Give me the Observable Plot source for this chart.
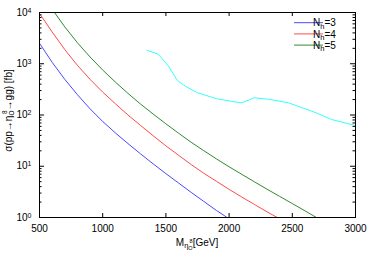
<!DOCTYPE html>
<html><head><meta charset="utf-8">
<script src="https://cdn.jsdelivr.net/npm/d3@7"></script>
<script src="https://cdn.jsdelivr.net/npm/@observablehq/plot@0.6"></script>
<style>body{margin:0;background:#fff} svg{display:block}</style>
</head><body><div id="chart"></div>
<script>
// ---- data ----
const mass = [500,600,700,800,900,1000,1100,1200,1300,1400,1500,1600,1700,1800,1900,2000,2100,2200,2300,2400,2500,2600,2700];
const sigmaNh3 = [2511,1067,496,249,132,74.7,44.8,27.7,17.4,11.1,7.17,4.71,3.09,2.06,1.37,0.944];
const sigmaNh4 = [9560,4184,1887,932,496,280,166,100,62.4,39.2,25.0,16.4,10.8,7.29,5.08,3.54,2.51,1.80,1.29,0.944];
const sigmaNh5 = [27350,11620,5243,2568,1357,755,440,264,163,104,67.3,44.2,29.4,20.1,13.9,9.76,6.96,4.97,3.57,2.58,1.87,1.35,0.97];
const limitMass = [1350,1440,1520,1590,1660,1750,1900,2020,2100,2200,2320,2470,2580,2690,2810,3000];
const limitSigma = [1833,1531,904,474,357,272,208,184,173,217,201,173,138,110,81.8,62.4];
const seriesNames = ["3","4","5"];
const seriesColors = ["#4a4aff","#ff4a4a","#2f8a2f"];
const limitColor = "#33ffff";
const xTicks = [500,1000,1500,2000,2500,3000];
const yTicks = [1,10,100,1000,10000];
const yTickExp = ["0","1","2","3","4"];

// ---- layout ----
const W = 374, H = 261, mL = 39, mR = 19, mT = 12, mB = 44;
const plotW = W - mL - mR, plotH = H - mT - mB;
const font = "'Liberation Sans', Arial, Helvetica, sans-serif";

const curves = [sigmaNh3, sigmaNh4, sigmaNh5].flatMap((vals, s) =>
  vals.map((v, i) => ({M: mass[i], sigma: v, series: seriesNames[s]})));
const limit = limitMass.map((m, i) => ({M: m, sigma: limitSigma[i]}));
const minorTicks = [];
for (let k = 0; k < 4; k++) for (let m = 2; m <= 9; m++) minorTicks.push(m * Math.pow(10, k));

const plot = Plot.plot({
  width: W, height: H,
  marginLeft: mL, marginRight: mR, marginTop: mT, marginBottom: mB,
  style: {fontFamily: font, fontSize: "10px", background: "#fff", color: "#000", overflow: "visible"},
  x: {domain: [500, 3000]},
  y: {type: "log", domain: [1, 1e4]},
  color: {domain: seriesNames, range: seriesColors},
  marks: [
    Plot.line(curves, {x: "M", y: "sigma", z: "series", stroke: "series", strokeWidth: 1, clip: true}),
    Plot.line(limit, {x: "M", y: "sigma", stroke: limitColor, strokeWidth: 1, clip: true}),
    Plot.ruleX(xTicks, {insetTop: plotH - 4, stroke: "#000"}),
    Plot.ruleX(xTicks, {insetBottom: plotH - 4, stroke: "#000"}),
    Plot.ruleY(yTicks, {insetRight: plotW - 5, stroke: "#000"}),
    Plot.ruleY(yTicks, {insetLeft: plotW - 5, stroke: "#000"}),
    Plot.ruleY(minorTicks, {insetRight: plotW - 2.5, stroke: "#000"}),
    Plot.ruleY(minorTicks, {insetLeft: plotW - 2.5, stroke: "#000"}),
    Plot.axisX(xTicks, {tickSize: 0, tickPadding: 7, tickFormat: d => String(d), label: null}),
    Plot.axisY(yTicks, {tickSize: 0, tickPadding: 8, tickFormat: d => "10^" + yTickExp[yTicks.indexOf(d)], label: null}),
    Plot.frame({stroke: "#000"})
  ]
});

const svg = d3.select(plot);
// superscripts on y tick labels
svg.selectAll('g[aria-label="y-axis tick label"] text').each(function() {
  const t = d3.select(this);
  const [base, exp] = t.text().split("^");
  t.text(base);
  t.append("tspan").attr("dy", "-0.45em").attr("font-size", "7px").text(exp);
});

// x axis title
const xt = svg.append("text")
  .attr("x", mL + plotW / 2).attr("y", H - 15.5)
  .attr("text-anchor", "middle").attr("font-family", font).attr("font-size", 10).attr("fill", "#000");
xt.append("tspan").text("M");
xt.append("tspan").attr("dy", 2.5).attr("font-size", 7.5).text("η");
xt.append("tspan").attr("dy", 1.5).attr("font-size", 5.5).text("O");
xt.append("tspan").attr("dx", -3).attr("dy", -6.5).attr("font-size", 5.5).text("8");
xt.append("tspan").attr("dy", 2.5).attr("font-size", 10).text("[GeV]");

// y axis title
const yt = svg.append("text")
  .attr("transform", `translate(12,${mT + plotH / 2 - 4}) rotate(-90)`)
  .attr("text-anchor", "middle").attr("font-family", font).attr("font-size", 10).attr("fill", "#000");
yt.append("tspan").text("σ(pp→η");
yt.append("tspan").attr("dy", 2).attr("font-size", 6.5).text("O");
yt.append("tspan").attr("dx", -3.5).attr("dy", -7).attr("font-size", 6.5).text("8");
yt.append("tspan").attr("dy", 5).text("→gg) [fb]");

// legend
seriesNames.forEach((n, i) => {
  const y = mT + 10.7 + i * 11.2;
  const xr = W - mR;
  svg.append("line").attr("x1", xr - 61).attr("x2", xr - 32).attr("y1", y).attr("y2", y)
    .attr("stroke", seriesColors[i]).attr("stroke-width", 1);
  const t = svg.append("text").attr("x", xr - 30.5).attr("y", y + 3.6)
    .attr("font-family", font).attr("font-size", 10).attr("fill", "#000");
  t.append("tspan").text("N");
  t.append("tspan").attr("dy", 2.5).attr("font-size", 7.5).text("h");
  t.append("tspan").attr("dy", -2.5).text("=" + n);
});

document.getElementById("chart").append(plot);
</script>
</body></html>
